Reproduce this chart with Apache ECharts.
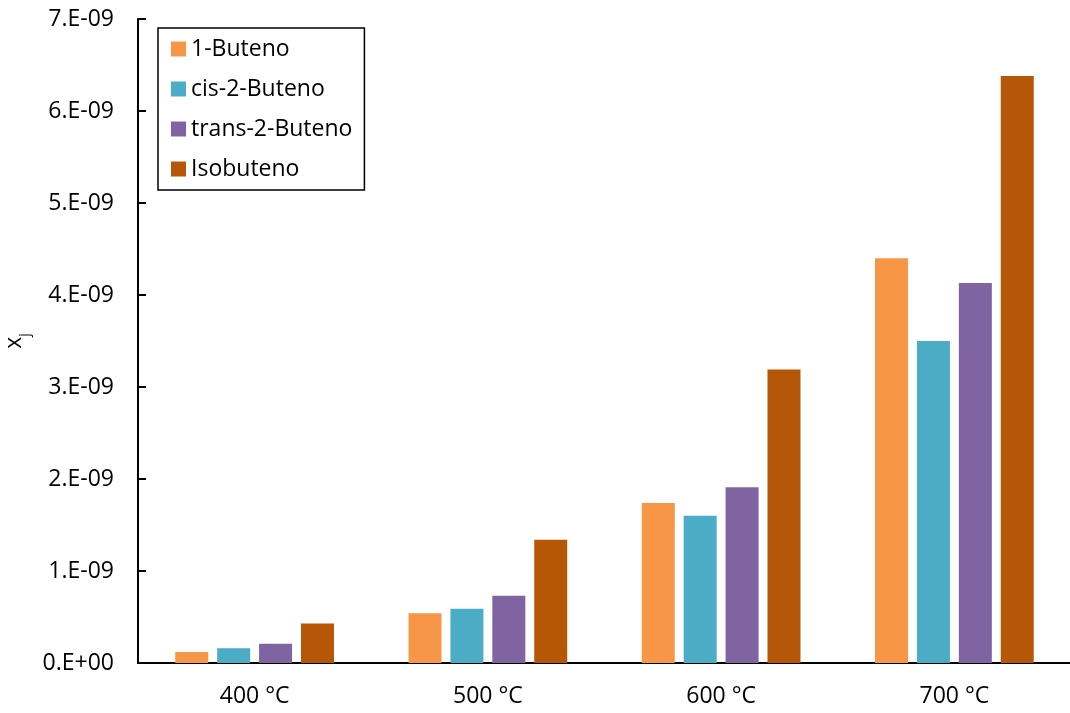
<!DOCTYPE html>
<html>
<head>
<meta charset="utf-8">
<script src="https://cdn.jsdelivr.net/npm/echarts@6/dist/echarts.min.js"></script>
<style>
  html, body { margin: 0; padding: 0; background: #fff; }
  #chart { width: 1070px; height: 713px; }
</style>
</head>
<body>
<div id="chart"></div>
<script>
// Temperatures (categories)
const categories = ['400 °C', '500 °C', '600 °C', '700 °C'];

// Mole fractions x_j for each butene isomer
const buteno1 = [0.12e-9, 0.54e-9, 1.74e-9, 4.40e-9];
const cis2Buteno = [0.16e-9, 0.59e-9, 1.60e-9, 3.50e-9];
const trans2Buteno = [0.21e-9, 0.73e-9, 1.91e-9, 4.13e-9];
const isobuteno = [0.43e-9, 1.34e-9, 3.19e-9, 6.38e-9];

const seriesNames = ['1-Buteno', 'cis-2-Buteno', 'trans-2-Buteno', 'Isobuteno'];
const seriesData = [buteno1, cis2Buteno, trans2Buteno, isobuteno];
const colors = ['#F79646', '#4BACC6', '#8064A2', '#B65708'];

const FONT = '"Open Sans", Lato, sans-serif';

function sciLabel(v) {
  if (v === 0) return '0.E+00';
  const n = Math.round(v / 1e-9);
  return n + '.E-09';
}

const chart = echarts.init(document.getElementById('chart'));
chart.setOption({
  animation: false,
  color: colors,
  grid: { left: 138, top: 19, width: 933, bottom: 50, containLabel: false, outerBoundsMode: 'none' },
  legend: {
    orient: 'vertical',
    left: 158,
    top: 28,
    padding: [8, 12, 8, 13],
    itemWidth: 15,
    itemHeight: 15,
    itemGap: 14,
    borderColor: '#000',
    borderWidth: 1.5,
    borderRadius: 0,
    icon: 'rect',
    textStyle: { fontFamily: FONT, fontSize: 23, lineHeight: 26, color: '#000', padding: [0, 0, 0, 0] },
    data: seriesNames
  },
  xAxis: {
    type: 'category',
    data: categories,
    axisLine: { lineStyle: { color: '#000', width: 2 } },
    axisTick: { inside: true, length: 8, lineStyle: { color: '#000', width: 2 } },
    axisLabel: { fontFamily: FONT, fontSize: 23, color: '#000', margin: 22 }
  },
  yAxis: {
    type: 'value',
    min: 0,
    max: 7e-9,
    interval: 1e-9,
    name: '{x|x}{j|j}',
    nameLocation: 'middle',
    nameGap: 112,
    nameRotate: 90,
    nameTextStyle: {
      rich: {
        x: { fontFamily: FONT, fontSize: 23, color: '#000' },
        j: { fontFamily: FONT, fontSize: 14, color: '#000', verticalAlign: 'bottom', padding: [0, 0, -6, 0] }
      }
    },
    axisLine: { show: true, lineStyle: { color: '#000', width: 2 } },
    axisTick: { show: true, inside: true, length: 8, lineStyle: { color: '#000', width: 2 } },
    splitLine: { show: false },
    axisLabel: { fontFamily: FONT, fontSize: 23, color: '#000', margin: 24, formatter: sciLabel }
  },
  series: seriesNames.map((name, i) => ({
    name: name,
    type: 'bar',
    data: seriesData[i],
    barWidth: 33,
    barGap: '27%',
    itemStyle: { color: colors[i] }
  }))
});
</script>
</body>
</html>
